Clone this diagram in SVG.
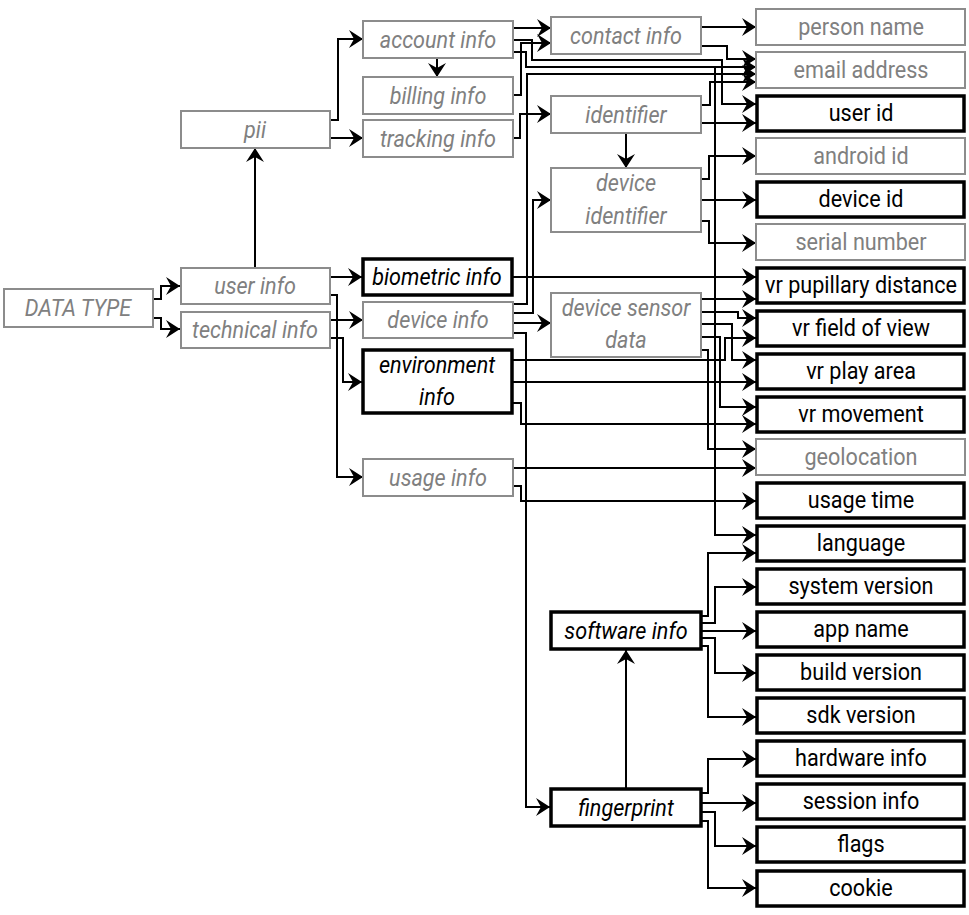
<svg xmlns="http://www.w3.org/2000/svg" width="969" height="915" viewBox="0 0 969 915">
<style>
.g rect{fill:#fff;stroke:#8c8c8c;stroke-width:2}
.b rect{fill:#fff;stroke:#000;stroke-width:3.5}
text{font-family:Roboto,"Noto Sans",sans-serif;font-size:24px;text-anchor:middle}
.g text{fill:#808080}
.b text{fill:#000}
.i text{font-style:italic}
#edges path{fill:none;stroke:#000;stroke-width:2;marker-end:url(#ah)}
</style>
<defs>
<marker id="ah" viewBox="0 0 14 18" refX="14" refY="9" markerWidth="14" markerHeight="18" markerUnits="userSpaceOnUse" orient="auto">
<path d="M0,0 L14,9 L0,18 L5,9 Z" fill="#000"/>
</marker>
</defs>
<rect width="969" height="915" fill="#fff"/>
<g id="edges">
<path d="M153,299 H161 V286 H180"/>
<path d="M153,318 H161 V329 H180"/>
<path d="M255,267 V148"/>
<path d="M330,120 H338 V39 H363"/>
<path d="M330,138 H363"/>
<path d="M437,58 V77"/>
<path d="M330,277 H362"/>
<path d="M330,295 H337 V477 H363"/>
<path d="M330,320 H363"/>
<path d="M330,338 H343 V382 H362"/>
<path d="M513,28 H551"/>
<path d="M513,95 H521 V43 H551"/>
<path d="M513,138 H520 V114 H551"/>
<path d="M513,40 H532 V60 H722 V104 H756"/>
<path d="M513,52 H526 V67 H756"/>
<path d="M513,52 H526 V67 H715 V535 H756"/>
<path d="M513,304 H527 V74 H756"/>
<path d="M701,27 H756"/>
<path d="M701,46 H727 V59 H756"/>
<path d="M701,105 H710 V82 H756"/>
<path d="M701,123 H756"/>
<path d="M626,133 V168"/>
<path d="M701,179 H709 V156 H756"/>
<path d="M701,200 H756"/>
<path d="M701,221 H709 V243 H756"/>
<path d="M513,277 H756"/>
<path d="M513,313 H533 V200 H551"/>
<path d="M513,323 H551"/>
<path d="M513,333 H526 V807 H550"/>
<path d="M701,299 H756"/>
<path d="M701,312 H738 V318 H756"/>
<path d="M701,324 H732 V360 H756"/>
<path d="M701,337 H720 V407 H756"/>
<path d="M701,350 H708 V449 H756"/>
<path d="M513,360 H725 V338 H756"/>
<path d="M513,382 H756"/>
<path d="M513,403 H521 V424 H756"/>
<path d="M513,468 H756"/>
<path d="M513,486 H521 V501 H756"/>
<path d="M702,616 H708 V553 H756"/>
<path d="M702,623 H715 V587 H756"/>
<path d="M702,631 H756"/>
<path d="M702,638 H715 V673 H756"/>
<path d="M702,646 H708 V717 H756"/>
<path d="M626,788 V650"/>
<path d="M702,793 H708 V759 H756"/>
<path d="M702,803 H756"/>
<path d="M702,812 H715 V846 H756"/>
<path d="M702,821 H708 V888 H756"/>
</g>
<g id="n-datatype" class="g i"><rect x="4" y="289" width="149" height="38"/><text transform="translate(78,316) scale(0.9,1)">DATA TYPE</text></g>
<g id="n-userinfo" class="g i"><rect x="181" y="268" width="149" height="36"/><text transform="translate(255,294) scale(0.9,1)">user info</text></g>
<g id="n-technical" class="g i"><rect x="181" y="312" width="149" height="36"/><text transform="translate(255,338) scale(0.9,1)">technical info</text></g>
<g id="n-pii" class="g i"><rect x="181" y="111" width="149" height="37"/><text transform="translate(255,138) scale(0.9,1)">pii</text></g>
<g id="n-account" class="g i"><rect x="363" y="21" width="150" height="37"/><text transform="translate(438,48) scale(0.9,1)">account info</text></g>
<g id="n-billing" class="g i"><rect x="363" y="77" width="150" height="37"/><text transform="translate(438,104) scale(0.9,1)">billing info</text></g>
<g id="n-tracking" class="g i"><rect x="363" y="120" width="150" height="37"/><text transform="translate(438,147) scale(0.9,1)">tracking info</text></g>
<g id="n-biometric" class="b i"><rect x="363" y="259" width="149" height="36"/><text transform="translate(437,285) scale(0.9,1)">biometric info</text></g>
<g id="n-deviceinfo" class="g i"><rect x="363" y="302" width="150" height="36"/><text transform="translate(438,328) scale(0.9,1)">device info</text></g>
<g id="n-environment" class="b i"><rect x="363" y="350" width="149" height="63"/><text transform="translate(437,373) scale(0.9,1)">environment</text><text transform="translate(437,405) scale(0.9,1)">info</text></g>
<g id="n-usage" class="g i"><rect x="363" y="459" width="150" height="37"/><text transform="translate(438,486) scale(0.9,1)">usage info</text></g>
<g id="n-contact" class="g i"><rect x="551" y="17" width="150" height="37"/><text transform="translate(626,44) scale(0.9,1)">contact info</text></g>
<g id="n-identifier" class="g i"><rect x="551" y="96" width="150" height="37"/><text transform="translate(626,123) scale(0.9,1)">identifier</text></g>
<g id="n-devident" class="g i"><rect x="551" y="168" width="150" height="64"/><text transform="translate(626,191) scale(0.9,1)">device</text><text transform="translate(626,224) scale(0.9,1)">identifier</text></g>
<g id="n-sensor" class="g i"><rect x="551" y="293" width="150" height="64"/><text transform="translate(626,316) scale(0.9,1)">device sensor</text><text transform="translate(626,348) scale(0.9,1)">data</text></g>
<g id="n-software" class="b i"><rect x="551" y="612" width="150" height="37"/><text transform="translate(626,639) scale(0.9,1)">software info</text></g>
<g id="n-fingerprint" class="b i"><rect x="551" y="789" width="150" height="37"/><text transform="translate(626,816) scale(0.9,1)">fingerprint</text></g>
<g id="n-personname" class="g"><rect x="756" y="9" width="209" height="36"/><text transform="translate(861,35) scale(0.9,1)">person name</text></g>
<g id="n-email" class="g"><rect x="756" y="52" width="209" height="36"/><text transform="translate(861,78) scale(0.9,1)">email address</text></g>
<g id="n-userid" class="b"><rect x="757" y="96" width="207" height="35"/><text transform="translate(861,121) scale(0.9,1)">user id</text></g>
<g id="n-androidid" class="g"><rect x="756" y="138" width="209" height="36"/><text transform="translate(861,164) scale(0.9,1)">android id</text></g>
<g id="n-deviceid" class="b"><rect x="757" y="182" width="207" height="35"/><text transform="translate(861,207) scale(0.9,1)">device id</text></g>
<g id="n-serial" class="g"><rect x="756" y="224" width="209" height="36"/><text transform="translate(861,250) scale(0.9,1)">serial number</text></g>
<g id="n-pupillary" class="b"><rect x="757" y="268" width="207" height="35"/><text transform="translate(861,293) scale(0.9,1)">vr pupillary distance</text></g>
<g id="n-fov" class="b"><rect x="757" y="311" width="207" height="35"/><text transform="translate(861,336) scale(0.9,1)">vr field of view</text></g>
<g id="n-playarea" class="b"><rect x="757" y="354" width="207" height="35"/><text transform="translate(861,379) scale(0.9,1)">vr play area</text></g>
<g id="n-movement" class="b"><rect x="757" y="397" width="207" height="35"/><text transform="translate(861,422) scale(0.9,1)">vr movement</text></g>
<g id="n-geolocation" class="g"><rect x="756" y="439" width="209" height="36"/><text transform="translate(861,465) scale(0.9,1)">geolocation</text></g>
<g id="n-usagetime" class="b"><rect x="757" y="483" width="207" height="35"/><text transform="translate(861,508) scale(0.9,1)">usage time</text></g>
<g id="n-language" class="b"><rect x="757" y="526" width="207" height="35"/><text transform="translate(861,551) scale(0.9,1)">language</text></g>
<g id="n-sysversion" class="b"><rect x="757" y="569" width="207" height="35"/><text transform="translate(861,594) scale(0.9,1)">system version</text></g>
<g id="n-appname" class="b"><rect x="757" y="612" width="207" height="35"/><text transform="translate(861,637) scale(0.9,1)">app name</text></g>
<g id="n-buildversion" class="b"><rect x="757" y="655" width="207" height="35"/><text transform="translate(861,680) scale(0.9,1)">build version</text></g>
<g id="n-sdkversion" class="b"><rect x="757" y="698" width="207" height="35"/><text transform="translate(861,723) scale(0.9,1)">sdk version</text></g>
<g id="n-hardware" class="b"><rect x="757" y="741" width="207" height="35"/><text transform="translate(861,766) scale(0.9,1)">hardware info</text></g>
<g id="n-session" class="b"><rect x="757" y="784" width="207" height="35"/><text transform="translate(861,809) scale(0.9,1)">session info</text></g>
<g id="n-flags" class="b"><rect x="757" y="827" width="207" height="35"/><text transform="translate(861,852) scale(0.9,1)">flags</text></g>
<g id="n-cookie" class="b"><rect x="757" y="871" width="207" height="35"/><text transform="translate(861,896) scale(0.9,1)">cookie</text></g>
</svg>
